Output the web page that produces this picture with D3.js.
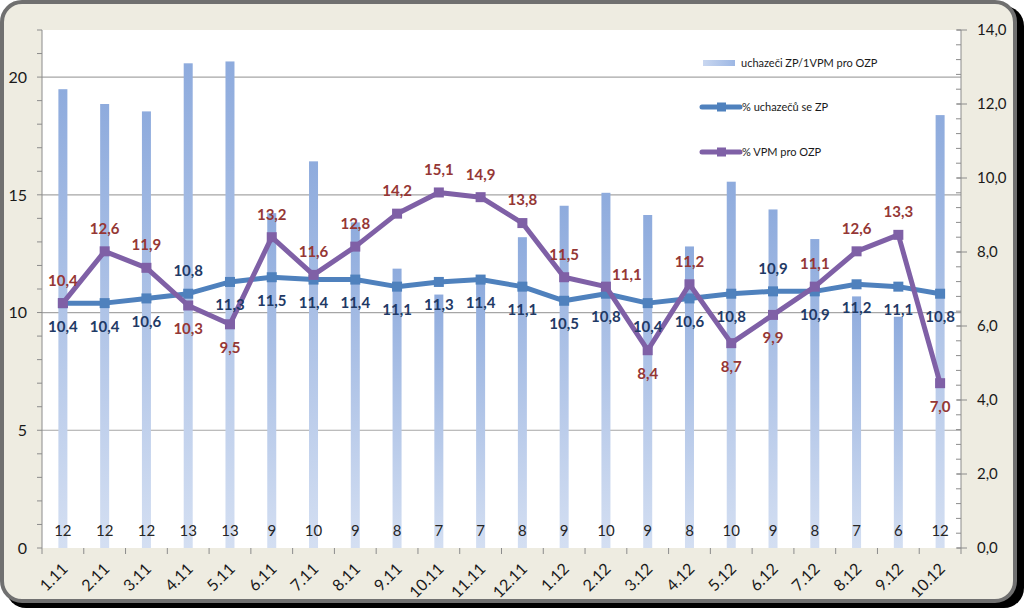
<!DOCTYPE html>
<html>
<head>
<meta charset="utf-8">
<script src="https://cdn.jsdelivr.net/npm/d3@7"></script>
<style>
  html, body { margin: 0; padding: 0; background: #ffffff; }
  svg { display: block; }
</style>
</head>
<body>
<svg id="chart" width="1024" height="608"></svg>
<script>
// ---- data ----
const categories = ["1.11","2.11","3.11","4.11","5.11","6.11","7.11","8.11","9.11","10.11","11.11","12.11",
                    "1.12","2.12","3.12","4.12","5.12","6.12","7.12","8.12","9.12","10.12"];
const barValues = [12.4,12.0,11.8,13.1,13.15,9.05,10.45,8.8,7.55,6.85,7.2,8.4,
                   9.25,9.6,9.0,8.15,9.9,9.15,8.35,6.8,6.25,11.7];
const barLabels = ["12","12","12","13","13","9","10","9","8","7","7","8",
                   "9","10","9","8","10","9","8","7","6","12"];
const blueValues = [10.4,10.4,10.6,10.8,11.3,11.5,11.4,11.4,11.1,11.3,11.4,11.1,
                    10.5,10.8,10.4,10.6,10.8,10.9,10.9,11.2,11.1,10.8];
const purpleValues = [10.4,12.6,11.9,10.3,9.5,13.2,11.6,12.8,14.2,15.1,14.9,13.8,
                      11.5,11.1,8.4,11.2,8.7,9.9,11.1,12.6,13.3,7.0];
const leftTicks = [0,5,10,15,20];
const rightTicks = [0,2,4,6,8,10,12,14];
const seriesNames = ["uchazeči ZP/1VPM pro OZP","% uchazečů se ZP","% VPM pro OZP"];
// label placement (style)
const blueLabelPlacement = categories.map((c,i) => (i===3 || i===17) ? "above" : "below");
const purpleLabelPlacement = categories.map((c,i) =>
  [3,4,14,16,17,21].includes(i) ? "below" : (i===13 ? "right" : "above"));

// ---- layout ----
const svg = d3.select("#chart");
const pL = 42, pR = 961, pT = 30, pB = 548;
const FONT = "Lato, 'Open Sans', sans-serif";

const defs = svg.append("defs");
const bg = defs.append("linearGradient").attr("id","barGrad").attr("x1",0).attr("y1",0).attr("x2",0).attr("y2",1);
bg.append("stop").attr("offset","0%").attr("stop-color","#8eabdd");
bg.append("stop").attr("offset","100%").attr("stop-color","#d4dff2");
const lg = defs.append("linearGradient").attr("id","legGrad").attr("x1",0).attr("y1",0).attr("x2",1).attr("y2",0);
lg.append("stop").attr("offset","0%").attr("stop-color","#c9d7f0");
lg.append("stop").attr("offset","100%").attr("stop-color","#9db7e4");

// frame with shadow
svg.append("rect").attr("x",6).attr("y",6).attr("width",1018).attr("height",602).attr("rx",20).attr("fill","#000");
svg.append("rect").attr("x",2).attr("y",2).attr("width",1013).attr("height",599).attr("rx",20)
  .attr("fill","#eeece1").attr("stroke","#707070").attr("stroke-width",4);

// plot area
svg.append("rect").attr("x",pL).attr("y",pT).attr("width",pR-pL).attr("height",pB-pT).attr("fill","#ffffff");

const x = d3.scaleBand().domain(categories).range([pL,pR]).padding(0);
const yL = d3.scaleLinear().domain([0,22]).range([pB,pT]);
const yR = d3.scaleLinear().domain([0,14]).range([pB,pT]);
const cx = i => x(categories[i]) + x.bandwidth()/2;

// gridlines
svg.append("g").selectAll("line").data(leftTicks.filter(t=>t>0)).join("line")
  .attr("x1",pL).attr("x2",pR).attr("y1",d=>yL(d)).attr("y2",d=>yL(d))
  .attr("stroke","#a6a6a6").attr("stroke-width",1.2);

// left axis
const gL = svg.append("g");
gL.append("line").attr("x1",pL).attr("x2",pL).attr("y1",pT).attr("y2",pB).attr("stroke","#8c8c8c");
gL.selectAll("line.minor").data(d3.range(0,23)).join("line").attr("class","minor")
  .attr("x1",pL-5).attr("x2",pL).attr("y1",d=>yL(d)).attr("y2",d=>yL(d)).attr("stroke","#8c8c8c");
gL.selectAll("text").data(leftTicks).join("text")
  .attr("x",pL-15).attr("y",d=>yL(d)).attr("dy","0.36em").attr("text-anchor","end")
  .attr("font-family",FONT).attr("font-size",16).attr("fill","#1a1a1a").text(d=>d);

// right axis
const gR = svg.append("g");
gR.append("line").attr("x1",pR).attr("x2",pR).attr("y1",pT).attr("y2",pB).attr("stroke","#8c8c8c");
gR.selectAll("line.minor").data(d3.range(0,36).map(k=>k*0.4)).join("line").attr("class","minor")
  .attr("x1",pR-5).attr("x2",pR).attr("y1",d=>yR(d)).attr("y2",d=>yR(d)).attr("stroke","#8c8c8c");
gR.selectAll("line.major").data(rightTicks).join("line").attr("class","major")
  .attr("x1",pR-4).attr("x2",pR+6).attr("y1",d=>yR(d)).attr("y2",d=>yR(d)).attr("stroke","#8c8c8c");
gR.selectAll("text").data(rightTicks).join("text")
  .attr("x",pR+16).attr("y",d=>yR(d)).attr("dy","0.36em").attr("text-anchor","start")
  .attr("font-family",FONT).attr("font-size",15).attr("fill","#1a1a1a").text(d=>d3.format(".1f")(d).replace(".",","));

// bottom axis
const gB = svg.append("g");
gB.append("line").attr("x1",pL).attr("x2",pR).attr("y1",pB).attr("y2",pB).attr("stroke","#8c8c8c");
gB.selectAll("line").data(d3.range(0,categories.length+1)).join("line")
  .attr("x1",d=>pL+d*x.step()).attr("x2",d=>pL+d*x.step()).attr("y1",pB).attr("y2",pB+6).attr("stroke","#8c8c8c");
gB.selectAll("text").data(categories).join("text")
  .attr("transform",(d,i)=>`translate(${cx(i)+2},${pB+18}) rotate(-45)`)
  .attr("text-anchor","end").attr("dy","0.35em")
  .attr("font-family",FONT).attr("font-size",16).attr("fill","#1a1a1a").text(d=>d);

// bars
const bw = 9;
svg.append("g").selectAll("rect").data(barValues).join("rect")
  .attr("x",(d,i)=>cx(i)-bw/2)
  .attr("width",bw)
  .attr("y",d=>yR(d)).attr("height",d=>pB-yR(d))
  .attr("fill","url(#barGrad)");

// bar labels
svg.append("g").selectAll("text").data(barLabels).join("text")
  .attr("x",(d,i)=>cx(i)).attr("y",536)
  .attr("text-anchor","middle").attr("font-family",FONT).attr("font-size",15).attr("fill","#262626").text(d=>d);

// lines
function drawLine(vals,color){
  const line = d3.line().x((d,i)=>cx(i)).y(d=>yL(d));
  svg.append("path").datum(vals).attr("d",line).attr("fill","none")
    .attr("stroke",color).attr("stroke-width",5).attr("stroke-linejoin","round");
  svg.append("g").selectAll("rect").data(vals).join("rect")
    .attr("x",(d,i)=>cx(i)-5).attr("y",d=>yL(d)-5)
    .attr("width",10).attr("height",10).attr("fill",color);
}
drawLine(blueValues,"#4f81bd");
drawLine(purpleValues,"#7f60a6");

function drawLabels(vals,place,color){
  svg.append("g").selectAll("text").data(vals).join("text")
    .attr("x",(d,i)=>cx(i)+(place[i]==="right"?21:0))
    .attr("y",(d,i)=>yL(d)+(place[i]==="below"?23:(place[i]==="right"?-12:-23)))
    .attr("dy","0.36em").attr("text-anchor","middle")
    .attr("font-family",FONT).attr("font-size",15).attr("font-weight",700).attr("fill",color)
    .text(d=>d3.format(".1f")(d).replace(".",","));
}
drawLabels(blueValues,blueLabelPlacement,"#1f3a66");
drawLabels(purpleValues,purpleLabelPlacement,"#953735");

// legend
const legY = [63,107,152];
const lgG = svg.append("g");
lgG.append("rect").attr("x",703).attr("y",legY[0]-3).attr("width",32).attr("height",6).attr("fill","url(#legGrad)");
[["#4f81bd",1],["#7f60a6",2]].forEach(([c,k])=>{
  lgG.append("line").attr("x1",702).attr("x2",740).attr("y1",legY[k]).attr("y2",legY[k])
    .attr("stroke",c).attr("stroke-width",5).attr("stroke-linecap","round");
  lgG.append("rect").attr("x",717).attr("y",legY[k]-4.5).attr("width",9).attr("height",9).attr("fill",c);
});
lgG.selectAll("text").data(seriesNames).join("text")
  .attr("x",(d,i)=>i===0?741:742).attr("y",(d,i)=>legY[i]).attr("dy","0.35em")
  .attr("font-family",FONT).attr("font-size",11).attr("fill","#1a1a1a").text(d=>d);
</script>
</body>
</html>
